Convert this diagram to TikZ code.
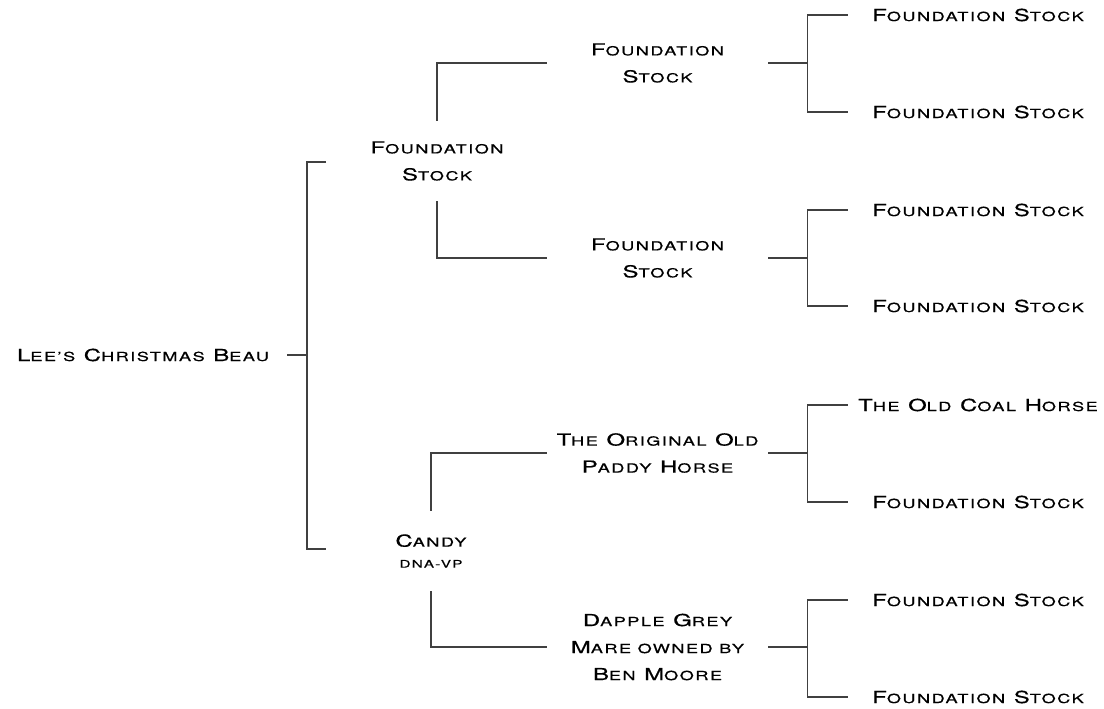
\documentclass[tikz,border=0pt]{standalone}
\usepackage{fontspec}
\setmainfont[FakeStretch=1.45,LetterSpace=12,FakeBold=0.6]{TeX Gyre Heros}
\newcommand\s[1]{{\fontsize{12.5}{15}\selectfont #1}}
\newcommand\tn[1]{{\fontsize{10.5}{12}\selectfont #1}}
\begin{document}
\begin{tikzpicture}[x=1pt,y=-1pt,
  lbl/.style={align=center,font=\fontsize{16.5}{27}\selectfont,inner sep=0pt},
  link/.style={draw=black!75,line width=1.3pt}]
\useasboundingbox (0,0) rectangle (1104,709);
% root
\node[lbl,minimum width=288pt] (root) at (143,355) {L\s{EE'S} C\s{HRISTMAS} B\s{EAU}};
% generation 1
\node[lbl,minimum height=80pt,minimum width=150pt] (f1) at (437,161) {F\s{OUNDATION}\\S\s{TOCK}};
\node[lbl,minimum height=80pt,minimum width=150pt] (cd) at (431,551) {C\s{ANDY}\\[-6pt]\tn{DNA-VP}};
% generation 2
\node[lbl,minimum width=221pt] (g1) at (657.5,63) {F\s{OUNDATION}\\S\s{TOCK}};
\node[lbl,minimum width=221pt] (g2) at (657.5,258) {F\s{OUNDATION}\\S\s{TOCK}};
\node[lbl,minimum width=221pt] (g3) at (657.5,453) {T\s{HE} O\s{RIGINAL} O\s{LD}\\P\s{ADDY} H\s{ORSE}};
\node[lbl,minimum width=221pt] (g4) at (657.5,647) {D\s{APPLE} G\s{REY}\\M\s{ARE OWNED BY}\\B\s{EN} M\s{OORE}};
% generation 3
\node[lbl,minimum width=260pt] (h1) at (978,15) {F\s{OUNDATION} S\s{TOCK}};
\node[lbl,minimum width=260pt] (h2) at (978,112) {F\s{OUNDATION} S\s{TOCK}};
\node[lbl,minimum width=260pt] (h3) at (978,210) {F\s{OUNDATION} S\s{TOCK}};
\node[lbl,minimum width=260pt] (h4) at (978,306) {F\s{OUNDATION} S\s{TOCK}};
\node[lbl,minimum width=260pt] (h5) at (978,405) {T\s{HE} O\s{LD} C\s{OAL} H\s{ORSE}};
\node[lbl,minimum width=260pt] (h6) at (978,502) {F\s{OUNDATION} S\s{TOCK}};
\node[lbl,minimum width=260pt] (h7) at (978,600) {F\s{OUNDATION} S\s{TOCK}};
\node[lbl,minimum width=260pt] (h8) at (978,697) {F\s{OUNDATION} S\s{TOCK}};
% root bracket
\coordinate (bt) at (326,162);
\coordinate (bb) at (326,549);
\draw[link] (root.east) -- ++(20,0);
\draw[link] (bt) -- ++(-19,0) |- (bb);
% gen1 -> gen2
\draw[link] (f1.north) |- (g1.west);
\draw[link] (f1.south) |- (g2.west);
\draw[link] (cd.north) |- (g3.west);
\draw[link] (cd.south) |- (g4.west);
% gen2 -> gen3
\draw[link] (g1.east) -- ++(40,0);
\draw[link] (h1.west) -- ++(-40,0) |- (h2.west);
\draw[link] (g2.east) -- ++(40,0);
\draw[link] (h3.west) -- ++(-40,0) |- (h4.west);
\draw[link] (g3.east) -- ++(40,0);
\draw[link] (h5.west) -- ++(-40,0) |- (h6.west);
\draw[link] (g4.east) -- ++(40,0);
\draw[link] (h7.west) -- ++(-40,0) |- (h8.west);
\end{tikzpicture}
\end{document}
